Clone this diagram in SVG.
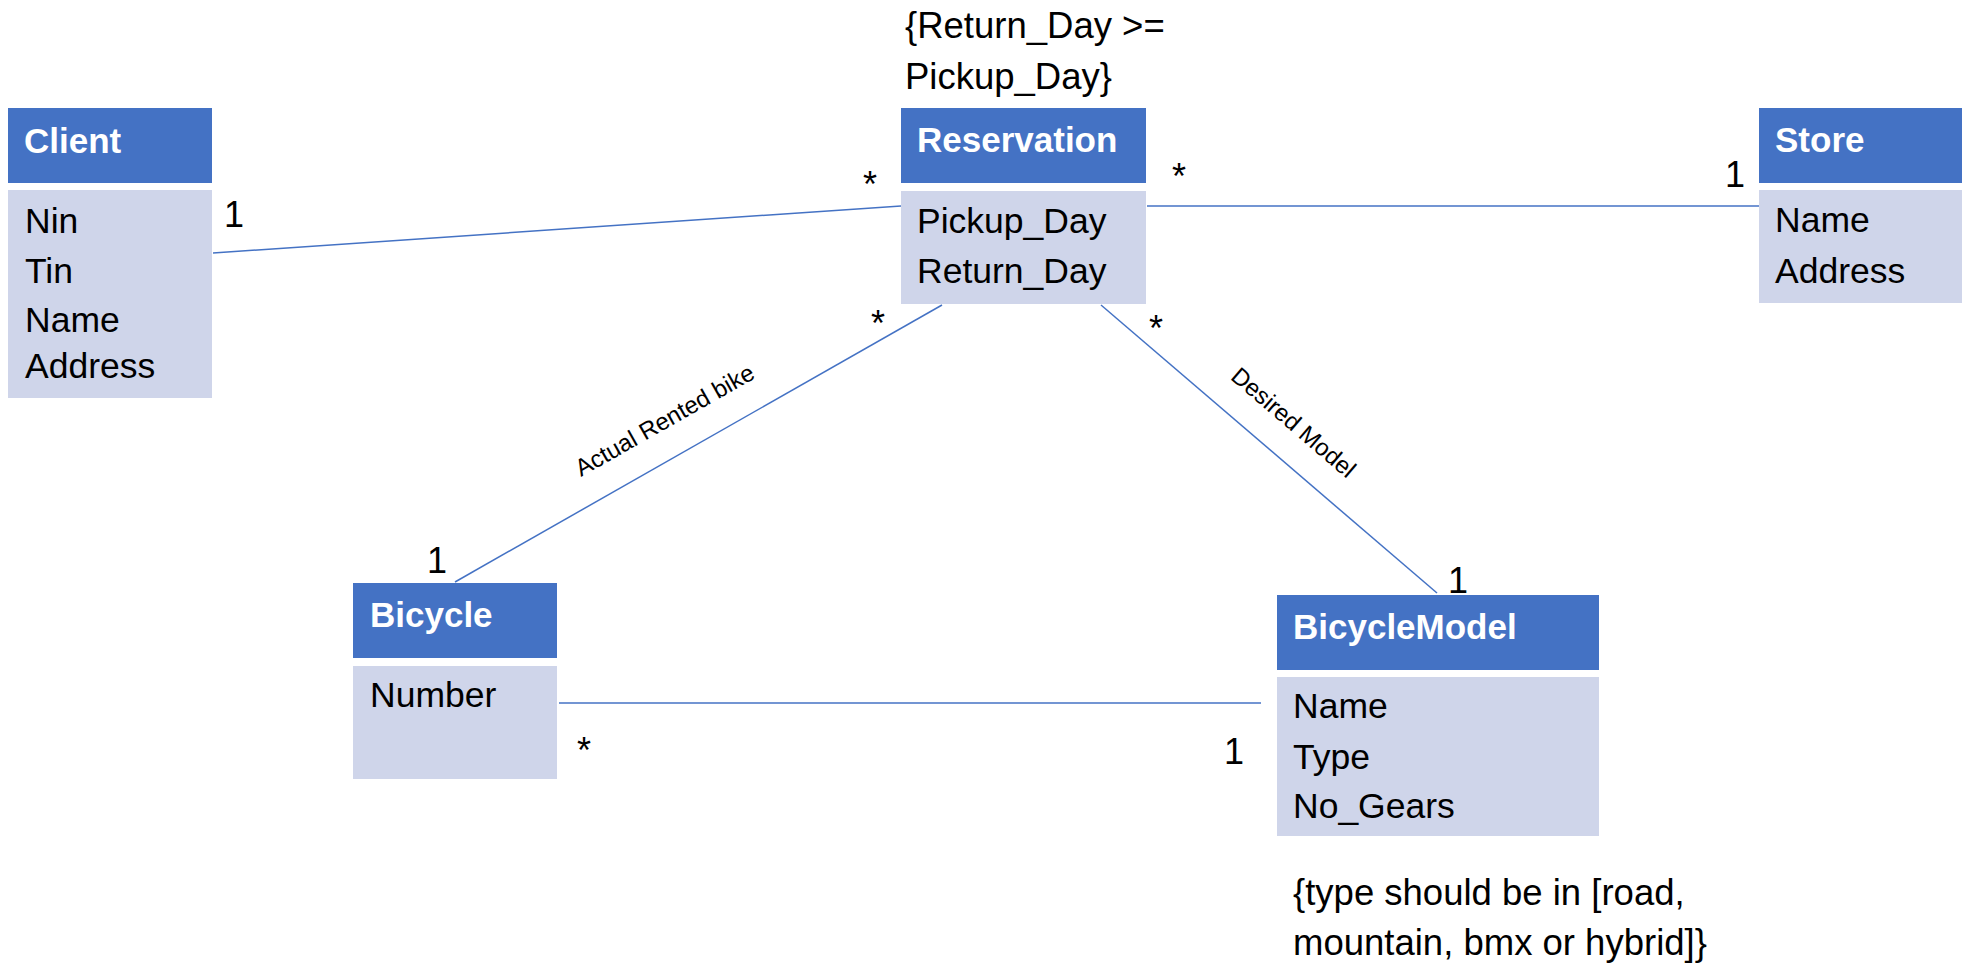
<svg xmlns="http://www.w3.org/2000/svg" width="1966" height="965" viewBox="0 0 1966 965">
<style>
.hd{fill:#4472C4;}
.bd{fill:#CFD5EA;}
.ht{font-family:"Liberation Sans",Arial,sans-serif;font-size:35px;font-weight:bold;fill:#FFFFFF;}
.bt{font-family:"Liberation Sans",Arial,sans-serif;font-size:35.5px;fill:#000000;}
.ct{font-family:"Liberation Sans",Arial,sans-serif;font-size:36.5px;fill:#000000;}
.lbl{font-family:"Liberation Sans",Arial,sans-serif;font-size:24px;fill:#000000;text-anchor:middle;}
.mul{font-family:"Liberation Sans",Arial,sans-serif;font-size:36px;fill:#000000;text-anchor:middle;}
.cn{stroke:#4472C4;stroke-width:1.5;fill:none;}
</style>
<rect width="1966" height="965" fill="#FFFFFF"/>
<g id="connectors">
<line class="cn" x1="213" y1="253" x2="901" y2="206"/>
<line class="cn" x1="1147" y1="206" x2="1759" y2="206"/>
<line class="cn" x1="455" y1="582" x2="942" y2="305"/>
<line class="cn" x1="1101" y1="305" x2="1437" y2="593"/>
<line class="cn" x1="559" y1="703" x2="1261" y2="703"/>
<text class="lbl" transform="translate(683,452.5) rotate(-29.6)" x="0" y="-29">Actual Rented bike</text>
<text class="lbl" transform="translate(1270,450) rotate(40.6)" x="0" y="-28">Desired Model</text>
<text class="mul" x="234" y="227">1</text>
<text class="mul" x="870" y="197">*</text>
<text class="mul" x="1179" y="189">*</text>
<text class="mul" x="1735" y="187">1</text>
<text class="mul" x="878" y="336">*</text>
<text class="mul" x="1156" y="341">*</text>
<text class="mul" x="437" y="573">1</text>
<text class="mul" x="1458" y="593">1</text>
<text class="mul" x="584" y="763">*</text>
<text class="mul" x="1234" y="764">1</text>
</g>
<g id="client">
<rect class="hd" x="8" y="108" width="204" height="75"/>
<rect class="bd" x="8" y="190" width="204" height="208"/>
<text class="ht" x="24" y="153">Client</text>
<text class="bt" x="25" y="233">Nin</text>
<text class="bt" x="25" y="283">Tin</text>
<text class="bt" x="25" y="332">Name</text>
<text class="bt" x="25" y="378">Address</text>
</g>
<g id="reservation">
<rect class="hd" x="901" y="108" width="245" height="75"/>
<rect class="bd" x="901" y="191" width="245" height="113"/>
<text class="ht" x="917" y="152">Reservation</text>
<text class="bt" x="917" y="233">Pickup_Day</text>
<text class="bt" x="917" y="283">Return_Day</text>
</g>
<g id="reservation-constraint">
<text class="ct" x="905" y="38">{Return_Day &gt;=</text>
<text class="ct" x="905" y="89">Pickup_Day}</text>
</g>
<g id="store">
<rect class="hd" x="1759" y="108" width="203" height="75"/>
<rect class="bd" x="1759" y="190" width="203" height="113"/>
<text class="ht" x="1775" y="152">Store</text>
<text class="bt" x="1775" y="232">Name</text>
<text class="bt" x="1775" y="283">Address</text>
</g>
<g id="bicycle">
<rect class="hd" x="353" y="583" width="204" height="75"/>
<rect class="bd" x="353" y="666" width="204" height="113"/>
<text class="ht" x="370" y="627">Bicycle</text>
<text class="bt" x="370" y="707">Number</text>
</g>
<g id="bicyclemodel">
<rect class="hd" x="1277" y="595" width="322" height="75"/>
<rect class="bd" x="1277" y="677" width="322" height="159"/>
<text class="ht" x="1293" y="639">BicycleModel</text>
<text class="bt" x="1293" y="718">Name</text>
<text class="bt" x="1293" y="769">Type</text>
<text class="bt" x="1293" y="818">No_Gears</text>
</g>
<g id="bicyclemodel-constraint">
<text class="ct" x="1293" y="905">{type should be in [road,</text>
<text class="ct" x="1293" y="955">mountain, bmx or hybrid]}</text>
</g>
</svg>
